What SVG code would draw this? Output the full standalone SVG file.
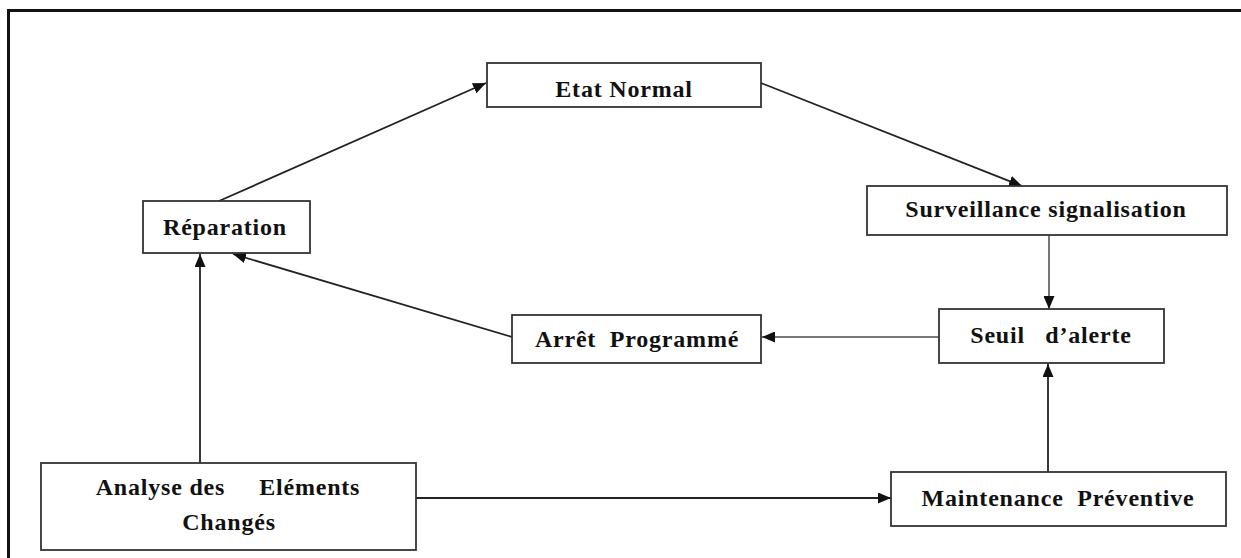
<svg xmlns="http://www.w3.org/2000/svg" width="1241" height="558" viewBox="0 0 1241 558">
<style>
.box{fill:#fff;stroke:#333;stroke-width:1.8}
.t{font-family:"Liberation Serif","Times New Roman",serif;font-size:24px;font-weight:bold;letter-spacing:0.8px;fill:#111;text-anchor:middle;white-space:pre}
.c{fill:none;stroke:#222;stroke-width:1.8}
.g{fill:none;stroke:#777;stroke-width:2}
</style>
<defs>
<marker id="ah" viewBox="0 0 13 11" refX="13" refY="5.5" markerWidth="13" markerHeight="11" markerUnits="userSpaceOnUse" orient="auto">
<path d="M0,0 L13,5.5 L0,11 z" fill="#111"/>
</marker>
</defs>
<rect width="1241" height="558" fill="#fff"/>
<path d="M8.5,558 V10.5 H1241" fill="none" stroke="#111" stroke-width="3"/>
<g id="connectors">
<line class="c" x1="219" y1="201" x2="486" y2="83" marker-end="url(#ah)"/>
<line class="c" x1="761" y1="83" x2="1022" y2="186" marker-end="url(#ah)"/>
<line class="g" x1="1049" y1="235" x2="1049" y2="309" marker-end="url(#ah)"/>
<line class="g" x1="939" y1="337" x2="762" y2="337" marker-end="url(#ah)"/>
<line class="c" x1="512" y1="337" x2="233" y2="254" marker-end="url(#ah)"/>
<line class="c" x1="200" y1="463" x2="200" y2="254" marker-end="url(#ah)"/>
<line class="c" x1="416" y1="498" x2="891" y2="498" marker-end="url(#ah)"/>
<line class="c" x1="1048" y1="472" x2="1048" y2="364" marker-end="url(#ah)"/>
</g>
<g id="etat-normal">
<rect class="box" x="487" y="63" width="274" height="44"/>
<text class="t" x="624" y="97">Etat Normal</text>
</g>
<g id="reparation">
<rect class="box" x="143" y="201" width="167" height="52"/>
<text class="t" x="225" y="235">Réparation</text>
</g>
<g id="surveillance">
<rect class="box" x="867" y="186" width="360" height="49"/>
<text class="t" x="1046" y="217">Surveillance signalisation</text>
</g>
<g id="seuil">
<rect class="box" x="939" y="309" width="225" height="54"/>
<text class="t" x="1051" y="343">Seuil   d’alerte</text>
</g>
<g id="arret">
<rect class="box" x="512" y="315" width="249" height="48"/>
<text class="t" x="637" y="347">Arrêt  Programmé</text>
</g>
<g id="analyse">
<rect class="box" x="41" y="463" width="375" height="87"/>
<text class="t" x="228" y="495">Analyse des     Eléments</text>
<text class="t" x="229" y="530">Changés</text>
</g>
<g id="maintenance">
<rect class="box" x="891" y="472" width="335" height="54"/>
<text class="t" x="1058" y="506">Maintenance  Préventive</text>
</g>
</svg>
